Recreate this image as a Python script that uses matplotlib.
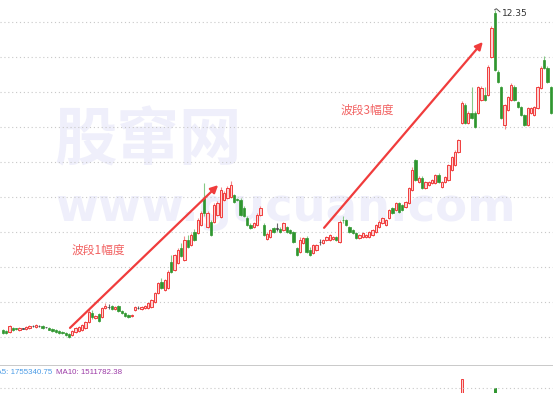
import matplotlib
matplotlib.use('Agg')
import matplotlib.pyplot as plt
import numpy as np

plt.rcParams['font.family'] = ['Noto Sans CJK SC', 'DejaVu Sans']

# Daily OHLC (price units)
opens = [
    3.20, 3.17, 3.14, 3.26, 3.25, 3.20, 3.24, 3.23, 3.26, 3.31,
    3.29, 3.32, 3.32, 3.28, 3.27, 3.23, 3.20, 3.17, 3.14, 3.12,
    3.09, 3.06, 3.14, 3.17, 3.20, 3.26, 3.43, 3.69, 3.54, 3.66,
    3.57, 3.83, 3.86, 3.89, 3.80, 3.89, 3.74, 3.69, 3.63, 3.60,
    3.77, 3.83, 3.80, 3.83, 3.83, 3.86, 4.00, 4.26, 4.57, 4.34,
    4.40, 5.14, 4.92, 5.12, 5.54, 5.20, 5.77, 5.63, 6.00, 5.97,
    6.20, 6.97, 6.14, 6.29, 6.29, 6.49, 6.43, 6.92, 6.97, 7.00,
    7.06, 6.95, 6.92, 6.70, 6.40, 6.20, 6.14, 6.20, 6.49, 6.20,
    5.80, 5.86, 6.12, 6.10, 6.10, 6.06, 6.14, 6.06, 6.00, 5.54,
    5.43, 5.69, 5.83, 5.50, 5.40, 5.49, 5.72, 5.69, 5.77, 5.77,
    5.80, 5.86, 5.72, 6.35, 6.34, 6.14, 6.06, 5.97, 5.83, 5.86,
    5.86, 5.86, 5.92, 6.00, 6.14, 6.26, 6.20, 6.40, 6.69, 6.63,
    6.83, 6.77, 6.72, 6.83, 7.20, 8.06, 7.43, 7.54, 7.26, 7.34,
    7.40, 7.40, 7.63, 7.29, 7.43, 7.49, 7.77, 7.92, 8.29, 9.12,
    9.63, 9.12, 9.40, 9.40, 9.40, 9.77, 9.91, 9.91, 11.00, 12.26,
    10.57, 10.14, 9.06, 9.49, 9.77, 10.14, 9.71, 9.57, 9.34, 9.06,
    9.40, 9.34, 9.54, 10.12, 10.92, 10.69, 10.14]
closes = [
    3.12, 3.12, 3.31, 3.20, 3.22, 3.26, 3.24, 3.29, 3.31, 3.31,
    3.34, 3.32, 3.26, 3.28, 3.21, 3.17, 3.14, 3.12, 3.11, 3.06,
    3.00, 3.17, 3.26, 3.29, 3.34, 3.43, 3.72, 3.57, 3.60, 3.46,
    3.83, 3.89, 3.86, 3.80, 3.86, 3.74, 3.69, 3.60, 3.57, 3.63,
    3.86, 3.83, 3.86, 3.89, 3.97, 4.06, 4.26, 4.54, 4.40, 4.63,
    4.86, 4.86, 5.34, 5.49, 5.31, 5.77, 5.57, 5.92, 5.77, 6.34,
    6.54, 6.54, 6.54, 5.92, 6.77, 6.83, 7.20, 7.11, 7.26, 7.34,
    6.86, 6.92, 6.49, 6.45, 6.20, 6.12, 6.26, 6.49, 6.69, 5.92,
    5.95, 6.06, 6.00, 6.10, 6.00, 6.26, 6.00, 5.97, 5.72, 5.34,
    5.77, 5.83, 5.43, 5.34, 5.63, 5.63, 5.72, 5.77, 5.86, 5.92,
    5.86, 5.77, 6.29, 6.33, 6.20, 6.00, 5.97, 5.83, 5.92, 5.97,
    5.92, 6.00, 6.06, 6.20, 6.29, 6.40, 6.34, 6.63, 6.54, 6.83,
    6.57, 6.63, 6.86, 7.26, 7.77, 7.49, 7.54, 7.26, 7.43, 7.43,
    7.49, 7.63, 7.43, 7.43, 7.57, 7.92, 8.14, 8.29, 8.63, 9.69,
    9.12, 9.40, 9.26, 9.00, 10.14, 10.12, 9.77, 10.72, 11.83, 10.63,
    10.29, 9.26, 9.63, 9.86, 10.20, 9.77, 9.57, 9.34, 9.06, 9.54,
    9.54, 9.57, 10.14, 10.69, 10.69, 10.29, 9.40]
highs = [
    3.22, 3.19, 3.34, 3.28, 3.27, 3.28, 3.27, 3.31, 3.33, 3.33,
    3.36, 3.34, 3.34, 3.30, 3.29, 3.25, 3.22, 3.19, 3.16, 3.14,
    3.11, 3.19, 3.28, 3.31, 3.37, 3.46, 3.80, 3.78, 3.64, 3.70,
    3.86, 3.98, 3.95, 3.92, 3.89, 3.92, 3.77, 3.72, 3.66, 3.66,
    3.89, 3.88, 3.89, 3.92, 3.99, 4.09, 4.30, 4.57, 4.70, 4.66,
    4.92, 5.34, 5.38, 5.55, 5.70, 5.90, 5.92, 5.97, 6.10, 6.40,
    6.60, 7.40, 6.60, 6.35, 6.83, 6.88, 7.30, 7.17, 7.31, 7.45,
    7.10, 6.98, 6.97, 6.75, 6.45, 6.25, 6.30, 6.55, 6.75, 6.25,
    5.99, 6.10, 6.15, 6.26, 6.14, 6.30, 6.17, 6.09, 6.03, 5.57,
    5.85, 5.87, 5.88, 5.57, 5.66, 5.66, 5.80, 5.80, 5.89, 5.95,
    5.89, 5.89, 6.33, 6.45, 6.37, 6.17, 6.09, 6.00, 5.95, 6.00,
    5.95, 6.03, 6.09, 6.23, 6.33, 6.43, 6.37, 6.66, 6.72, 6.86,
    6.86, 6.80, 6.90, 7.30, 7.85, 8.10, 7.60, 7.60, 7.46, 7.47,
    7.52, 7.66, 7.68, 7.46, 7.60, 7.95, 8.17, 8.33, 8.66, 9.75,
    9.70, 9.45, 10.14, 9.45, 10.18, 10.16, 10.14, 10.76, 11.88, 12.35,
    10.62, 10.17, 9.67, 9.90, 10.25, 10.20, 9.75, 9.60, 9.38, 9.58,
    9.57, 9.60, 10.18, 10.73, 11.03, 10.73, 10.18]
lows = [
    3.10, 3.10, 3.12, 3.18, 3.20, 3.18, 3.22, 3.21, 3.24, 3.29,
    3.27, 3.30, 3.24, 3.26, 3.19, 3.15, 3.12, 3.10, 3.09, 3.04,
    2.98, 3.04, 3.12, 3.15, 3.18, 3.24, 3.40, 3.52, 3.52, 3.43,
    3.55, 3.80, 3.80, 3.77, 3.78, 3.71, 3.66, 3.57, 3.55, 3.58,
    3.75, 3.80, 3.78, 3.81, 3.81, 3.84, 3.97, 4.23, 4.37, 4.31,
    4.37, 4.82, 4.89, 5.09, 5.28, 5.17, 5.54, 5.60, 5.74, 5.94,
    6.17, 6.45, 6.11, 5.89, 6.26, 6.46, 6.40, 6.89, 6.94, 6.97,
    6.83, 6.89, 6.46, 6.42, 6.17, 6.09, 6.11, 6.17, 6.46, 5.89,
    5.77, 5.83, 5.97, 6.03, 5.97, 6.03, 5.97, 5.94, 5.69, 5.31,
    5.40, 5.66, 5.40, 5.31, 5.37, 5.46, 5.63, 5.66, 5.74, 5.74,
    5.77, 5.74, 5.69, 6.26, 6.17, 5.97, 5.94, 5.80, 5.80, 5.83,
    5.83, 5.83, 5.89, 5.97, 6.11, 6.23, 6.17, 6.37, 6.51, 6.60,
    6.54, 6.60, 6.69, 6.80, 7.17, 7.46, 7.40, 7.23, 7.23, 7.31,
    7.37, 7.37, 7.40, 7.26, 7.40, 7.46, 7.74, 7.89, 8.26, 9.09,
    9.09, 9.09, 9.23, 8.97, 9.37, 9.74, 9.74, 9.88, 10.97, 10.60,
    10.26, 9.23, 8.95, 9.46, 9.74, 9.74, 9.54, 9.31, 9.03, 9.03,
    9.37, 9.31, 9.51, 10.09, 10.66, 10.26, 9.37]

# only the two volume spikes reach into the visible strip
vol_days = [139, 149]
vol_values = [7.4e6, 6.55e6]

peak_label = '12.35'
ma_texts = ['MA5: 1755340.75', 'MA10: 1511782.38']

W, H = 553, 393
fig = plt.figure(figsize=(W / 100, H / 100), dpi=100, facecolor='white')
ax = fig.add_axes([0, 28 / H, 1, 365 / H])
vax = fig.add_axes([0, 0, 1, 28 / H])

n = len(opens)
x = np.arange(n)
o = np.array(opens); c = np.array(closes)
h = np.array(highs); l = np.array(lows)
up = c > o
down = c < o
flat = c == o

red_edge, red_face, red_wick = '#f03c3c', '#fcd2d2', '#f28a8a'
grn, grn_wick = '#2f962f', '#86c986'

# grid
for p in range(3, 13):
    ax.axhline(p, color='#c8c8c8', lw=0.8, ls=(0, (1, 2.5)), zorder=1)

# watermark
wm = '#efeffb'
ax.text(44, 8.6, '股窜网', fontsize=45, fontweight='bold', color=wm,
        ha='center', va='center', zorder=0)
ax.text(85.5, 6.66, 'www.gucuan.com', fontsize=33.5, fontweight='bold', color=wm,
        ha='center', va='center', family='DejaVu Sans', zorder=0)

# wicks
ax.vlines(x[up], l[up], h[up], color=red_wick, lw=0.8, zorder=2)
ax.vlines(x[down], l[down], h[down], color=grn_wick, lw=0.8, zorder=2)
ax.vlines(x[flat], l[flat], h[flat], color='#666666', lw=0.8, zorder=2)

# bodies
bw = 0.72
ax.bar(x[up], c[up] - o[up], bottom=o[up], width=bw, color=red_face,
       edgecolor=red_edge, linewidth=0.7, zorder=3)
ax.bar(x[down], o[down] - c[down], bottom=c[down], width=bw, color=grn,
       edgecolor=grn, linewidth=0.5, zorder=3)
ax.bar(x[flat], 0.015, bottom=o[flat] - 0.0075, width=bw, color='#444444',
       edgecolor='#444444', linewidth=0.5, zorder=3)

# wave arrows
arrow_kw = dict(arrowstyle='-|>', color='#f03c3c', lw=1.6, mutation_scale=11,
                shrinkA=0, shrinkB=0)
ax.annotate('', xy=(65.2, 7.34), xytext=(20.3, 3.26), arrowprops=arrow_kw, zorder=4)
ax.annotate('', xy=(145.4, 11.43), xytext=(97.3, 6.12), arrowprops=arrow_kw, zorder=4)
ax.text(28.8, 5.49, '波段1幅度', fontsize=8.5, color='#f26464', ha='center', va='center')
ax.text(110.3, 9.49, '波段3幅度', fontsize=8.5, color='#f26464', ha='center', va='center')

# peak marker
pk = int(np.argmax(h))
ax.plot([pk, pk + 0.5, pk + 1.6], [h[pk], h[pk] + 0.03, h[pk] - 0.06],
        color='#555555', lw=0.7, zorder=4)
ax.text(pk + 2.2, h[pk] - 0.1, peak_label, fontsize=6.5, color='#333333',
        ha='left', va='center', family='DejaVu Sans')

ax.set_xlim(-0.909, 166.67)
ax.set_ylim(2.2, 12.629)
ax.axis('off')

# volume strip
vax.axhline(8.8e6, color='#c0c0c0', lw=1.2)
vax.axhline(6.5e6, color='#c8c8c8', lw=0.8, ls=(0, (1, 2.5)))
vcol = [red_face if c[d] > o[d] else grn for d in vol_days]
vedge = [red_edge if c[d] > o[d] else grn for d in vol_days]
vax.bar(vol_days, [v - 5.0e6 for v in vol_values], bottom=5.0e6, width=bw,
        color=vcol, edgecolor=vedge, linewidth=0.7)
# the MA5 label starts left of the picture, as in the source
vax.text(15.0, 8.12e6, ma_texts[0], fontsize=5.7, color='#4a9be6',
         ha='right', va='center', family='Liberation Sans')
vax.text(16.1, 8.12e6, ma_texts[1], fontsize=5.7, color='#9b3aa6',
         ha='left', va='center', family='Liberation Sans')
vax.set_xlim(-0.909, 166.67)
vax.set_ylim(6.0e6, 8.85e6)
vax.axis('off')

fig.savefig('out.png', dpi=100, facecolor='white')
